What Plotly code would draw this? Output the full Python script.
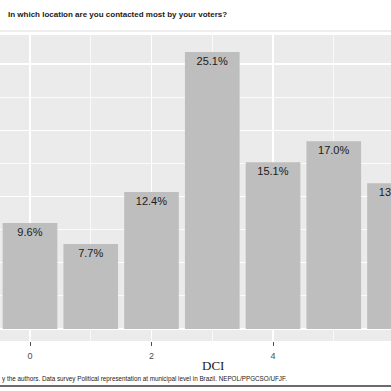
import plotly.graph_objects as go

categories = [0, 1, 2, 3, 4, 5, 6]
percent_values = [9.6, 7.7, 12.4, 25.1, 15.1, 17.0, 13.2]
bar_labels = ["9.6%", "7.7%", "12.4%", "25.1%", "15.1%", "17.0%", "13.2%"]
x_tick_values = [0, 2, 4, 6]
x_tick_labels = ["0", "2", "4", "6"]

title_text = "In which location are you contacted most by your voters?"
x_title = "DCI"
caption_text = "y the authors. Data survey Political representation at municipal level in Brazil. NEPOL/PPGCSO/UFJF."

W, H = 391, 391
mt, mb = 35, 50
plot_h = H - mt - mb


def py(ypx):
    return (H - mb - ypx) / plot_h


fig = go.Figure()
fig.add_trace(go.Bar(
    x=categories, y=percent_values, text=bar_labels,
    width=0.9,
    marker=dict(color="#bebebe", line=dict(width=0)),
    textposition="inside", insidetextanchor="end",
    textfont=dict(family="Liberation Sans, Arial", size=11, color="#1a1a1a"),
    textangle=0, cliponaxis=True, hoverinfo="skip",
))

fig.update_layout(
    width=W, height=H,
    margin=dict(l=0, r=0, t=mt, b=mb),
    paper_bgcolor="white", plot_bgcolor="#ebebeb",
    showlegend=False,
    xaxis=dict(
        range=[-0.494, 5.942], tickvals=x_tick_values, ticktext=x_tick_labels,
        showgrid=True, gridcolor="white", gridwidth=1.4,
        minor=dict(dtick=1, tick0=1, showgrid=True, gridcolor="white", gridwidth=0.7, ticklen=0),
        ticks="outside", ticklen=4, tickcolor="#4d4d4d", tickwidth=1,
        ticklabelstandoff=2,
        tickfont=dict(family="Liberation Sans, Arial", size=9, color="#4d4d4d"),
        zeroline=False, showline=False, fixedrange=True,
    ),
    yaxis=dict(
        range=[-1.09, 26.63], dtick=6, tick0=0,
        showgrid=True, gridcolor="white", gridwidth=1.2,
        minor=dict(dtick=3, tick0=0, showgrid=True, gridcolor="white", gridwidth=0.8),
        showticklabels=False, ticks="", zeroline=False, showline=False, fixedrange=True,
    ),
    annotations=[
        dict(text=title_text, xref="paper", yref="paper", x=6 / W, y=py(14),
             xanchor="left", yanchor="middle", showarrow=False,
             font=dict(family="Liberation Sans, Arial", size=8, color="#1a1a1a", weight="bold")),
        dict(text=x_title, xref="paper", yref="paper", x=213 / W, y=py(365),
             xanchor="center", yanchor="middle", showarrow=False,
             font=dict(family="Liberation Serif, Times New Roman", size=13, color="#1a1a1a")),
        dict(text=caption_text, xref="paper", yref="paper", x=0, y=py(379),
             xanchor="left", yanchor="middle", showarrow=False,
             font=dict(family="Liberation Sans, Arial", size=6.3, color="#1a1a1a")),
    ],
    shapes=[
        dict(type="line", xref="paper", yref="paper", x0=0, x1=1, y0=py(31), y1=py(31),
             line=dict(color="#dcdcdc", width=1)),
        dict(type="line", xref="paper", yref="paper", x0=0, x1=1, y0=py(386), y1=py(386),
             line=dict(color="#3a3a3a", width=1.5)),
    ],
)

fig.write_html(
    "out.html",
    config={"displayModeBar": False, "staticPlot": True},
    post_script="document.body.style.margin='0';document.body.style.overflow='hidden';",
)
